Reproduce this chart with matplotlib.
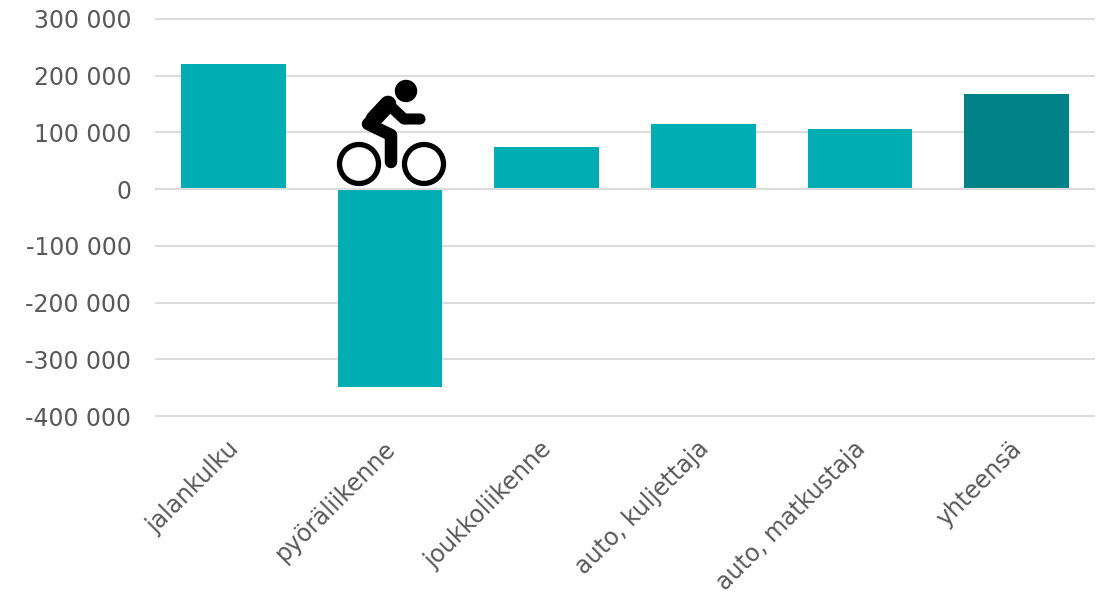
import matplotlib
matplotlib.use('Agg')
import matplotlib.pyplot as plt
from matplotlib.patches import Circle
from matplotlib.transforms import ScaledTranslation

categories = ['jalankulku', 'pyöräliikenne', 'joukkoliikenne', 'auto, kuljettaja', 'auto, matkustaja', 'yhteensä']
values = [220000, -349000, 74000, 115000, 106000, 168000]
colors = ['#00adb3', '#00adb3', '#00adb3', '#00adb3', '#00adb3', '#008287']
yticks = [300000, 200000, 100000, 0, -100000, -200000, -300000, -400000]
ylabels = ['300 000', '200 000', '100 000', '0', '-100 000', '-200 000', '-300 000', '-400 000']

W, H = 1107, 596
fig = plt.figure(figsize=(W / 100, H / 100), dpi=100)
ax = fig.add_axes([155 / W, 1 - 416 / H, 940 / W, 397 / H])

ax.bar(range(len(values)), values, width=0.667, color=colors, zorder=3)
ax.set_xlim(-0.5, 5.5)
ax.set_ylim(-400000, 300000)
ax.set_yticks(yticks)
ax.set_yticklabels(ylabels)
ax.set_xticks(range(len(categories)))
ax.set_xticklabels(categories, rotation=45, ha='right', rotation_mode='anchor')
ax.grid(axis='y', color='#dcdcdc', linewidth=1.5, zorder=0)
for line in ax.get_ygridlines():
    line.set_clip_on(False)
    line.set_solid_capstyle('butt')
ax.axhline(0, color='#dcdcdc', linewidth=1.5, zorder=4, solid_capstyle='butt')
ax.tick_params(axis='both', length=0, labelsize=17, labelcolor='#595959')
ax.tick_params(axis='y', pad=17)
ax.tick_params(axis='x', pad=15)
shift = ScaledTranslation(-7 / 100, 0, fig.dpi_scale_trans)
for lab in ax.get_xticklabels():
    lab.set_transform(lab.get_transform() + shift)
for s in ax.spines.values():
    s.set_visible(False)

# cyclist icon, in pixel coordinates on an overlay
icon = fig.add_axes([0, 0, 1, 1], zorder=5)
icon.set_xlim(0, W)
icon.set_ylim(H, 0)
icon.axis('off')
icon.add_patch(Circle((406, 91), 10.5, color='black'))
for cx in (359, 424):
    icon.add_patch(Circle((cx, 164), 19.5, facecolor='none', edgecolor='black', linewidth=3.8))
icon.plot([420, 404, 388], [119, 119, 104], color='black', lw=8, solid_capstyle='round', solid_joinstyle='round')
icon.plot([388, 368, 391, 391], [103, 124, 135, 162], color='black', lw=9, solid_capstyle='round', solid_joinstyle='round')
icon.plot([388, 374], [104, 119], color='black', lw=12, solid_capstyle='round')

fig.savefig('out.png', dpi=100)
